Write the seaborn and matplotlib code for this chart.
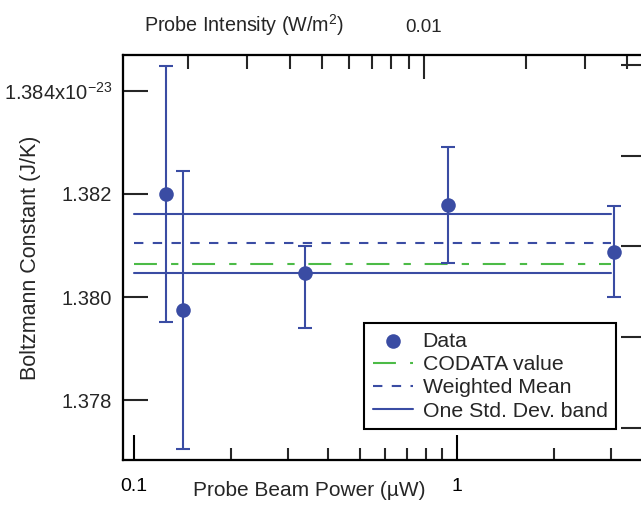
import matplotlib
matplotlib.use("Agg")
import matplotlib.pyplot as plt
import seaborn as sns
import pandas as pd
from matplotlib.ticker import FixedLocator, FixedFormatter, NullFormatter

# ---------------- data ----------------
power_uW = [0.1256, 0.142, 0.338, 0.938, 3.06]
kB = [1.38200, 1.37975, 1.38047, 1.38179, 1.38088]          # x 1e-23 J/K
kB_err_low = [0.00249, 0.00270, 0.00107, 0.00113, 0.00088]
kB_err_high = [0.00249, 0.00270, 0.00052, 0.00113, 0.00088]
line_x = [0.1, 3.0]
codata = 1.380649
weighted_mean = 1.38104
band_low = 1.38047
band_high = 1.38161
ytick_vals = [1.378, 1.380, 1.382, 1.384]
ytick_labels = ["1.378", "1.380", "1.382", "1.384x10$^{-23}$"]
xtick_vals = [0.1, 1]
xtick_labels = ["0.1", "1"]
top_tick_vals = [0.01]
top_tick_labels = ["0.01"]
top_minor_vals = [0.002, 0.003, 0.004, 0.005, 0.006, 0.007, 0.008, 0.009, 0.02, 0.03, 0.04]
bottom_minor_vals = [0.2, 0.3, 0.4, 0.5, 0.6, 0.7, 0.8, 0.9, 2, 3]
right_tick_vals = [0, 1, 2, 3, 4]

BLUE = "#3a4ca3"
GREEN = "#4cbb47"

sns.set_style("white")
plt.rcParams["font.family"] = ["Liberation Sans", "DejaVu Sans"]
plt.rcParams["mathtext.fontset"] = "custom"
plt.rcParams["mathtext.rm"] = "Liberation Sans"
plt.rcParams["mathtext.it"] = "Liberation Sans:italic"
plt.rcParams["mathtext.bf"] = "Liberation Sans:bold"
plt.rcParams["axes.unicode_minus"] = False
plt.rcParams["xtick.top"] = False
plt.rcParams["ytick.right"] = False

df = pd.DataFrame({"power": power_uW, "kB": kB,
                   "err_lo": kB_err_low, "err_hi": kB_err_high})

fig = plt.figure(figsize=(6.41, 5.05), dpi=100)
ax = fig.add_axes([0.1919, 0.0891, 0.8144, 0.802])

# top axis: probe intensity; right axis: unlabeled ticks
ax_top = ax.twiny()
ax_r = ax.twinx()

ax.errorbar(df["power"], df["kB"], yerr=[df["err_lo"], df["err_hi"]], fmt="none",
            ecolor=BLUE, elinewidth=1.5, capsize=5, capthick=1.5, zorder=3)
sns.scatterplot(data=df, x="power", y="kB", ax=ax, color=BLUE, s=110,
                edgecolor=BLUE, linewidth=0, label="Data", zorder=4)

sns.lineplot(x=line_x, y=[codata, codata], ax=ax, color=GREEN, lw=1.5,
             linestyle=(0, (11, 6.8, 3.5, 6.6)), label="CODATA value", zorder=2)
sns.lineplot(x=line_x, y=[weighted_mean, weighted_mean], ax=ax, color=BLUE, lw=1.5,
             linestyle=(0, (4.5, 4.5)), label="Weighted Mean", zorder=2)
sns.lineplot(x=line_x, y=[band_high, band_high], ax=ax, color=BLUE, lw=1.5,
             label="One Std. Dev. band", zorder=2)
sns.lineplot(x=line_x, y=[band_low, band_low], ax=ax, color=BLUE, lw=1.5,
             label="_nolegend_", zorder=2)

ax.set_xscale("log")
ax.set_xlim(0.0925, 3.82)
ax.set_ylim(1.376835, 1.384699)

ax.xaxis.set_major_locator(FixedLocator(xtick_vals))
ax.xaxis.set_major_formatter(FixedFormatter(xtick_labels))
ax.xaxis.set_minor_locator(FixedLocator(bottom_minor_vals))
ax.xaxis.set_minor_formatter(NullFormatter())
ax.yaxis.set_major_locator(FixedLocator(ytick_vals))
ax.yaxis.set_major_formatter(FixedFormatter(ytick_labels))

ax.tick_params(axis="x", which="major", direction="in", length=18, width=1.5,
               labelsize=14, pad=13, colors="black")
ax.tick_params(axis="x", which="minor", direction="in", length=9, width=1.5)
ax.tick_params(axis="x", which="both", bottom=True, top=False,
               labelbottom=True, labeltop=False)
ax.tick_params(axis="y", which="major", direction="in", length=18, width=1.5,
               labelsize=14.5, pad=8)
ax.tick_params(axis="y", which="both", left=True, right=False)

for a in (ax, ax_top, ax_r):
    for sp in a.spines.values():
        sp.set_linewidth(1.5)
        sp.set_color("black")
    a.grid(False)

ax.set_xlabel("Probe Beam Power (\u00b5W)", fontsize=15)
ax.xaxis.set_label_coords(0.356, -0.052)
ax.set_ylabel("Boltzmann Constant (J/K)", fontsize=15.5)
ax.yaxis.set_label_coords(-0.158, 0.5)

ax_top.set_xscale("log")
ax_top.set_xlim(0.001284, 0.04516)
ax_top.xaxis.set_major_locator(FixedLocator(top_tick_vals))
ax_top.xaxis.set_major_formatter(FixedFormatter(top_tick_labels))
ax_top.xaxis.set_minor_locator(FixedLocator(top_minor_vals))
ax_top.xaxis.set_minor_formatter(NullFormatter())
ax_top.tick_params(axis="x", which="major", direction="in", length=17, width=1.5,
                   labelsize=13.5, pad=14)
ax_top.tick_params(axis="x", which="minor", direction="in", length=10, width=1.5)
ax_top.tick_params(axis="x", which="both", top=True, bottom=False,
                   labeltop=True, labelbottom=False)
ax_top.set_xlabel("Probe Intensity (W/m$^{2}$)", fontsize=14.2)
ax_top.xaxis.set_label_coords(0.232, 1.058)

ax_r.set_ylim(-0.3526, 4.110)
ax_r.yaxis.set_major_locator(FixedLocator(right_tick_vals))
ax_r.yaxis.set_major_formatter(NullFormatter())
ax_r.tick_params(axis="y", which="major", direction="in", length=17, width=1.5,
                 right=True, left=False)
ax_r.tick_params(axis="y", which="minor", right=False, left=False)

leg = ax.legend(loc="lower right", bbox_to_anchor=(0.9444, 0.0765), fontsize=15.3,
                frameon=True, fancybox=False, edgecolor="black", framealpha=1,
                borderaxespad=0, borderpad=0.4, labelspacing=0.2,
                handlelength=1.9, handletextpad=0.45)
leg.get_frame().set_linewidth(1.5)
leg.set_zorder(10)
ax.set_zorder(ax_r.get_zorder() + 2)
ax.patch.set_visible(False)

fig.savefig("out.png", dpi=100)
